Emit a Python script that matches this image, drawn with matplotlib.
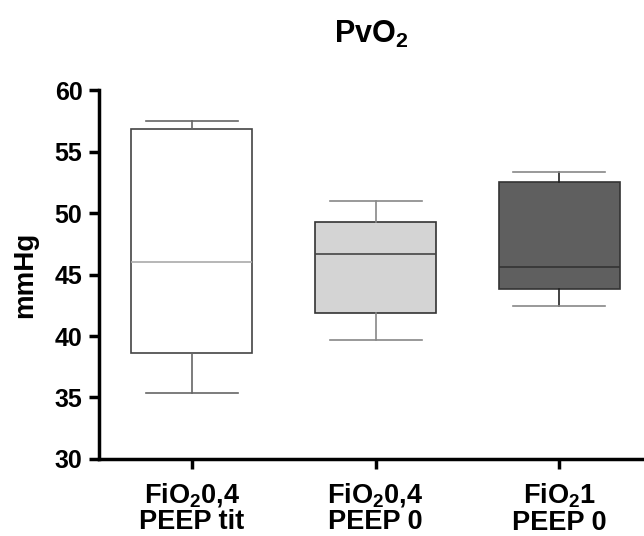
import matplotlib.pyplot as plt

plt.rcParams['font.family'] = ['Liberation Sans', 'DejaVu Sans']
plt.rcParams['font.weight'] = 'bold'
plt.rcParams['mathtext.fontset'] = 'custom'
plt.rcParams['mathtext.rm'] = 'Liberation Sans:bold'
plt.rcParams['mathtext.bf'] = 'Liberation Sans:bold'

# Box statistics (mmHg)
groups = ['FiO$_2$0,4\nPEEP tit', 'FiO$_2$0,4\nPEEP 0', 'FiO$_2$1\nPEEP 0']
whislo = [35.4, 39.7, 42.4]
q1 = [38.6, 41.9, 43.8]
med = [46.0, 46.7, 45.6]
q3 = [56.8, 49.3, 52.5]
whishi = [57.5, 51.0, 53.3]

fills = ['white', '#d4d4d4', '#5f5f5f']
edges = ['#444444', '#333333', '#333333']
medcols = ['#aaaaaa', '#444444', '#333333']
whiskcols = ['#666666', '#888888', '#222222']
capcols = ['#666666', '#888888', '#888888']

fig = plt.figure(figsize=(6.44, 5.36), dpi=100)
ax = fig.add_axes([0.154, 0.1437, 0.846, 0.6883])

stats = []
for i in range(len(groups)):
    stats.append({'whislo': whislo[i], 'q1': q1[i], 'med': med[i],
                  'q3': q3[i], 'whishi': whishi[i], 'fliers': []})

bp = ax.bxp(stats, positions=range(len(groups)), widths=0.66,
            patch_artist=True, showfliers=False)
for i in range(len(groups)):
    bp['boxes'][i].set(facecolor=fills[i], edgecolor=edges[i], linewidth=1.2)
    bp['medians'][i].set(color=medcols[i], linewidth=1.2)
    for w in bp['whiskers'][2 * i:2 * i + 2]:
        w.set(color=whiskcols[i], linewidth=1.2)
    for c in bp['caps'][2 * i:2 * i + 2]:
        c.set(color=capcols[i], linewidth=1.2)
        c.set_xdata([i - 0.25, i + 0.25])

ax.set_xlim(-0.503, 2.46)
ax.set_ylim(30, 60)
ax.set_yticks(range(30, 61, 5))
ax.set_xticks(range(len(groups)))
ax.set_xticklabels(groups, fontsize=19.5, fontweight='bold', linespacing=1.0)
ax.tick_params(axis='y', labelsize=18, width=2.5, length=7, pad=5)
ax.tick_params(axis='x', width=2.5, length=7, pad=9)

for s in ['top', 'right']:
    ax.spines[s].set_visible(False)
for s in ['left', 'bottom']:
    ax.spines[s].set_linewidth(2.5)

ax.set_ylabel('mmHg', fontsize=20, fontweight='bold', labelpad=12)
ax.set_title('PvO$_2$', fontsize=22, fontweight='bold', pad=34)

fig.savefig('out.png', dpi=100)
